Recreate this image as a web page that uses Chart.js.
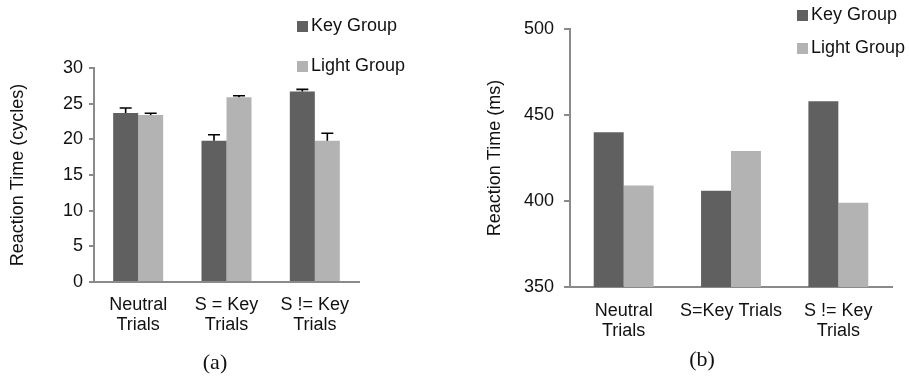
<!DOCTYPE html>
<html>
<head>
<meta charset="utf-8">
<script src="https://cdn.jsdelivr.net/npm/chart.js@4.4.0/dist/chart.umd.min.js"></script>
<style>
    body { margin: 0; background: #fff; }
    #wrap { position: relative; width: 909px; height: 377px; overflow: hidden; font-family: 'Liberation Sans', Arial, sans-serif; }
    canvas { position: absolute; top: 0; }
    .legend { position: absolute; font-size: 18px; color: #111; }
    .legend div { position: absolute; white-space: nowrap; line-height: 20px; }
    .legend span { display: inline-block; width: 11px; height: 11px; margin-right: 3px; vertical-align: -1px; }
    .caption { position: absolute; font-family: 'Liberation Serif', 'Times New Roman', serif; font-size: 22px; color: #111; transform: translate(-50%, -50%); }
</style>
</head>
<body>
<div id="wrap">
    <canvas id="chartA" width="455" height="377" style="left:0"></canvas>
    <canvas id="chartB" width="454" height="377" style="left:455px"></canvas>

    <div class="legend">
        <div style="left:297px; top:15px"><span style="background:#606060"></span>Key Group</div>
        <div style="left:297px; top:55px"><span style="background:#b3b3b3"></span>Light Group</div>
        <div style="left:797px; top:4px"><span style="background:#606060"></span>Key Group</div>
        <div style="left:797px; top:37px"><span style="background:#b3b3b3"></span>Light Group</div>
    </div>

    <div class="caption" style="left:215px; top:362px">(a)</div>
    <div class="caption" style="left:702px; top:359px">(b)</div>
</div>

<script>
// chart (a): reaction time in cycles, with error bars
const categoriesA = [['Neutral', 'Trials'], ['S = Key', 'Trials'], ['S != Key', 'Trials']];
const keyCycles = [23.7, 19.8, 26.7];
const lightCycles = [23.4, 25.9, 19.8];
const keyCyclesErr = [0.7, 0.85, 0.3];
const lightCyclesErr = [0.25, 0.2, 1.05];
const ticksA = [0, 5, 10, 15, 20, 25, 30];

// chart (b): reaction time in ms
const categoriesB = [['Neutral', 'Trials'], 'S=Key Trials', ['S != Key', 'Trials']];
const keyMs = [440, 406, 458];
const lightMs = [409, 429, 399];
const ticksB = [350, 400, 450, 500];

const DARK = '#606060';
const LIGHT = '#b3b3b3';
const AXIS = '#8a8a8a';
const FONT = "'Liberation Sans', Arial, sans-serif";

// draws upward error bars from the bar tops
const errorBars = {
    id: 'errorBars',
    afterDatasetsDraw(chart) {
        const ctx = chart.ctx;
        const yScale = chart.scales.y;
        chart.data.datasets.forEach((ds, i) => {
            if (!ds.errors) return;
            const meta = chart.getDatasetMeta(i);
            meta.data.forEach((bar, j) => {
                const top = yScale.getPixelForValue(ds.data[j] + ds.errors[j]);
                ctx.save();
                ctx.strokeStyle = '#000';
                ctx.lineWidth = 1.6;
                ctx.beginPath();
                ctx.moveTo(bar.x, bar.y);
                ctx.lineTo(bar.x, top);
                ctx.moveTo(bar.x - 6, top);
                ctx.lineTo(bar.x + 6, top);
                ctx.stroke();
                ctx.restore();
            });
        });
    }
};

function makeChart(id, cfg) {
    const ctx = document.getElementById(id).getContext('2d');
    return new Chart(ctx, {
        type: 'bar',
        data: {
            labels: cfg.labels,
            datasets: [{
                label: 'Key Group',
                data: cfg.key,
                errors: cfg.keyErr,
                backgroundColor: DARK,
                borderWidth: 0,
                categoryPercentage: cfg.catPct,
                barPercentage: 1.0
            }, {
                label: 'Light Group',
                data: cfg.light,
                errors: cfg.lightErr,
                backgroundColor: LIGHT,
                borderWidth: 0,
                categoryPercentage: cfg.catPct,
                barPercentage: 1.0
            }]
        },
        options: {
            responsive: false,
            animation: false,
            devicePixelRatio: 1,
            layout: {
                padding: { top: cfg.top, right: cfg.right, left: 0, bottom: 0 }
            },
            plugins: {
                legend: { display: false },
                tooltip: { enabled: false }
            },
            scales: {
                x: {
                    grid: { display: false },
                    border: { display: true, color: AXIS, width: 2 },
                    ticks: {
                        color: '#111',
                        padding: cfg.xPad,
                        maxRotation: 0,
                        autoSkip: false,
                        font: { family: FONT, size: 18, lineHeight: 20 / 18 }
                    },
                    afterFit(scale) { scale.height = cfg.xHeight; }
                },
                y: {
                    min: cfg.ticks[0],
                    max: cfg.ticks[cfg.ticks.length - 1],
                    afterBuildTicks(scale) {
                        scale.ticks = cfg.ticks.map(v => ({ value: v }));
                    },
                    grid: {
                        drawOnChartArea: false,
                        drawTicks: true,
                        tickLength: cfg.tickLen,
                        color: AXIS,
                        lineWidth: 2
                    },
                    border: { display: true, color: AXIS, width: 2 },
                    ticks: {
                        color: '#111',
                        padding: cfg.yPad,
                        font: { family: FONT, size: 18 }
                    },
                    title: {
                        display: true,
                        text: cfg.yTitle,
                        color: '#111',
                        padding: { top: cfg.titlePad, bottom: 0 },
                        font: { family: FONT, size: 18 }
                    },
                    afterFit(scale) { scale.width = cfg.yWidth; }
                }
            }
        },
        plugins: [errorBars]
    });
}

makeChart('chartA', {
    labels: categoriesA,
    key: keyCycles,
    light: lightCycles,
    keyErr: keyCyclesErr,
    lightErr: lightCyclesErr,
    ticks: ticksA,
    yTitle: 'Reaction Time (cycles)',
    catPct: 0.566,
    top: 68,
    right: 96,
    xHeight: 95,
    yWidth: 94,
    xPad: 5,
    yPad: 6,
    tickLen: 5,
    titlePad: 7
});

makeChart('chartB', {
    labels: categoriesB,
    key: keyMs,
    light: lightMs,
    ticks: ticksB,
    yTitle: 'Reaction Time (ms)',
    catPct: 0.558,
    top: 29,
    right: 17,
    xHeight: 90,
    yWidth: 115,
    xPad: 6,
    yPad: 10,
    tickLen: 6,
    titlePad: 29
});
</script>
</body>
</html>
